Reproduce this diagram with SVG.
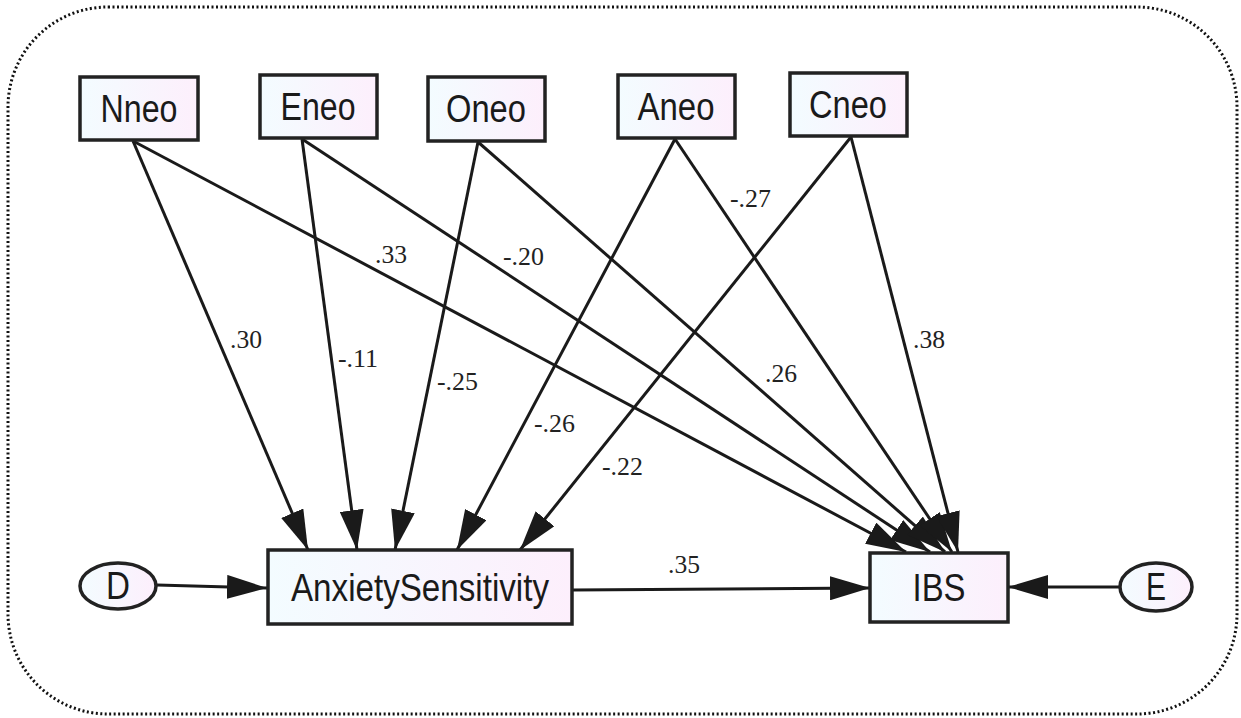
<svg xmlns="http://www.w3.org/2000/svg" width="1241" height="718" viewBox="0 0 1241 718">
<defs>
<linearGradient id="fillG" x1="0" y1="0" x2="1" y2="0">
<stop offset="0" stop-color="#f3fcff"/>
<stop offset="1" stop-color="#fdeffc"/>
</linearGradient>
<marker id="ah" viewBox="0 0 40 24" refX="40" refY="12" markerWidth="40" markerHeight="24" markerUnits="userSpaceOnUse" orient="auto">
<path d="M0,0 L40,12 L0,24 z" fill="#1a1a1a"/>
</marker>
</defs>
<style>
.box{fill:url(#fillG);stroke:#222;stroke-width:3.5}
.lbl{font-family:"Liberation Sans",Arial,sans-serif;font-size:38px;fill:#1a1a1a;text-anchor:middle}
.coef{font-family:"Liberation Serif","Times New Roman",serif;font-size:26px;fill:#222}
.path{stroke:#1a1a1a;stroke-width:3;fill:none;marker-end:url(#ah)}
.frame{fill:none;stroke:#111;stroke-width:3;stroke-dasharray:2 2.5}
</style>
<rect class="frame" x="8" y="7" width="1229" height="707" rx="100" ry="100"/>
<g id="connectors">
<line class="path" x1="133" y1="141" x2="308" y2="550"/>
<line class="path" x1="302" y1="139" x2="357" y2="550"/>
<line class="path" x1="478" y1="142" x2="395" y2="550"/>
<line class="path" x1="675" y1="139" x2="457" y2="550"/>
<line class="path" x1="851" y1="137" x2="520" y2="550"/>
<line class="path" x1="133" y1="141" x2="906" y2="552"/>
<line class="path" x1="302" y1="139" x2="930" y2="552"/>
<line class="path" x1="478" y1="142" x2="945" y2="552"/>
<line class="path" x1="675" y1="139" x2="952" y2="552"/>
<line class="path" x1="851" y1="137" x2="958" y2="552"/>
<line class="path" x1="157" y1="585" x2="267" y2="588"/>
<line class="path" x1="573" y1="590" x2="870" y2="588"/>
<line class="path" x1="1120" y1="587" x2="1008" y2="587"/>
</g>
<g id="labels">
<text class="coef" x="230" y="348" textLength="32" lengthAdjust="spacingAndGlyphs">.30</text>
<text class="coef" x="338" y="367" textLength="40" lengthAdjust="spacingAndGlyphs">-.11</text>
<text class="coef" x="375" y="263" textLength="32" lengthAdjust="spacingAndGlyphs">.33</text>
<text class="coef" x="503" y="265" textLength="41" lengthAdjust="spacingAndGlyphs">-.20</text>
<text class="coef" x="437" y="390" textLength="41" lengthAdjust="spacingAndGlyphs">-.25</text>
<text class="coef" x="534" y="432" textLength="41" lengthAdjust="spacingAndGlyphs">-.26</text>
<text class="coef" x="730" y="207" textLength="41" lengthAdjust="spacingAndGlyphs">-.27</text>
<text class="coef" x="765" y="382" textLength="32" lengthAdjust="spacingAndGlyphs">.26</text>
<text class="coef" x="913" y="348" textLength="32" lengthAdjust="spacingAndGlyphs">.38</text>
<text class="coef" x="602" y="475" textLength="41" lengthAdjust="spacingAndGlyphs">-.22</text>
<text class="coef" x="668" y="573" textLength="32" lengthAdjust="spacingAndGlyphs">.35</text>
</g>
<g id="Nneo"><rect class="box" x="80" y="77" width="118" height="63"/><text class="lbl" x="139" y="122" textLength="77" lengthAdjust="spacingAndGlyphs">Nneo</text></g>
<g id="Eneo"><rect class="box" x="260" y="75" width="117" height="63"/><text class="lbl" x="318" y="120" textLength="75" lengthAdjust="spacingAndGlyphs">Eneo</text></g>
<g id="Oneo"><rect class="box" x="428" y="77" width="117" height="64"/><text class="lbl" x="486" y="122" textLength="80" lengthAdjust="spacingAndGlyphs">Oneo</text></g>
<g id="Aneo"><rect class="box" x="618" y="75" width="117" height="63"/><text class="lbl" x="676" y="120" textLength="77" lengthAdjust="spacingAndGlyphs">Aneo</text></g>
<g id="Cneo"><rect class="box" x="790" y="73" width="117" height="63"/><text class="lbl" x="848" y="118" textLength="78" lengthAdjust="spacingAndGlyphs">Cneo</text></g>
<g id="AnxietySensitivity"><rect class="box" x="268" y="550" width="304" height="74"/><text class="lbl" x="420" y="601" textLength="258" lengthAdjust="spacingAndGlyphs">AnxietySensitivity</text></g>
<g id="IBS"><rect class="box" x="870" y="553" width="138" height="69"/><text class="lbl" x="939" y="601" textLength="53" lengthAdjust="spacingAndGlyphs">IBS</text></g>
<g id="D"><ellipse class="box" cx="118" cy="586" rx="38" ry="23" stroke-width="3"/><text class="lbl" x="118" y="599" textLength="24" lengthAdjust="spacingAndGlyphs">D</text></g>
<g id="E"><ellipse class="box" cx="1156" cy="587" rx="36" ry="24" stroke-width="3"/><text class="lbl" x="1156" y="600" textLength="20" lengthAdjust="spacingAndGlyphs">E</text></g>
</svg>
